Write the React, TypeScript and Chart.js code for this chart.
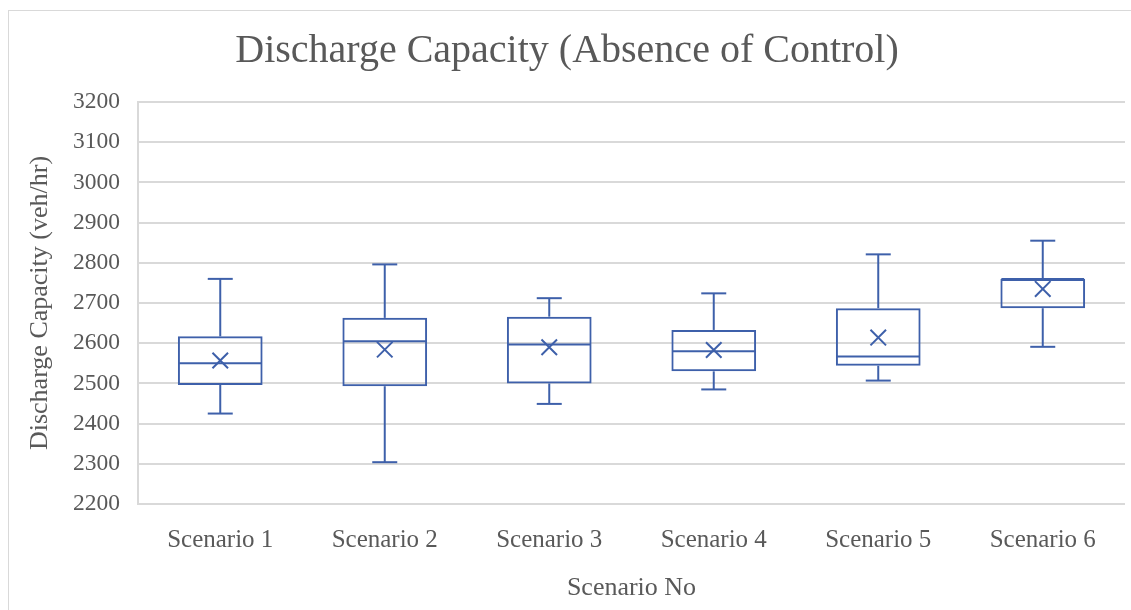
import React, { useEffect, useRef } from "react";
import { Chart, registerables } from "chart.js";

Chart.register(...registerables);

// ---- data ----
const categories = ["Scenario 1", "Scenario 2", "Scenario 3", "Scenario 4", "Scenario 5", "Scenario 6"];
const minValues = [2425, 2304, 2449, 2485, 2507, 2591];
const q1Values = [2496, 2493, 2500, 2530, 2544, 2687];
const medianValues = [2550, 2605, 2597, 2580, 2567, 2760];
const q3Values = [2617, 2663, 2666, 2633, 2687, 2760];
const maxValues = [2760, 2796, 2712, 2724, 2821, 2855];
const meanValues = [2557, 2584, 2590, 2583, 2614, 2735];

const yMin = 2200;
const yMax = 3200;
const yStep = 100;

const titleText = "Discharge Capacity (Absence of Control)";
const xTitleText = "Scenario No";
const yTitleText = "Discharge Capacity (veh/hr)";

// ---- styles ----
const BLUE = "#3E60AA";
const TEXT = "#595959";
const GRID = "#D9D9D9";
const FONT = "'Liberation Serif', 'Times New Roman', serif";

const W = 1130;
const H = 599;
const PLOT_BOTTOM = 493;
const Y_AXIS_WIDTH = 129;

const boxPlugin = {
  id: "boxWhiskers",
  afterDatasetsDraw(chart: any) {
    const { ctx } = chart;
    const y = chart.scales.y;
    const meta = chart.getDatasetMeta(0);
    ctx.save();
    ctx.strokeStyle = BLUE;
    ctx.lineWidth = 2;
    ctx.lineCap = "butt";
    const line = (x1: number, y1: number, x2: number, y2: number) => {
      ctx.beginPath();
      ctx.moveTo(x1, y1);
      ctx.lineTo(x2, y2);
      ctx.stroke();
    };
    categories.forEach((_, i) => {
      const bar = meta.data[i];
      if (!bar) return;
      const cx = bar.x;
      const half = bar.width / 2;
      const cap = 12.5;
      const pMin = y.getPixelForValue(minValues[i]);
      const pQ1 = y.getPixelForValue(q1Values[i]);
      const pMed = y.getPixelForValue(medianValues[i]);
      const pQ3 = y.getPixelForValue(q3Values[i]);
      const pMax = y.getPixelForValue(maxValues[i]);
      // upper whisker
      line(cx, pQ3, cx, pMax);
      line(cx - cap, pMax, cx + cap, pMax);
      // lower whisker
      line(cx, pQ1, cx, pMin);
      line(cx - cap, pMin, cx + cap, pMin);
      // median
      line(cx - half + 1, pMed, cx + half - 1, pMed);
    });
    ctx.restore();
  },
};

export default function App() {
  const canvasRef = useRef<HTMLCanvasElement | null>(null);

  useEffect(() => {
    document.body.style.overflow = "hidden";
    const canvas = canvasRef.current;
    if (!canvas) return;
    const chart = new Chart(canvas, {
      type: "bar",
      data: {
        labels: categories,
        datasets: [
          {
            type: "bar",
            label: "Box",
            data: categories.map((_, i) => [q1Values[i], q3Values[i]]) as any,
            backgroundColor: "rgba(255,255,255,0)",
            borderColor: BLUE,
            borderWidth: 2,
            borderSkipped: false,
            barPercentage: 1,
            categoryPercentage: 0.515,
            order: 2,
          } as any,
          {
            type: "line",
            label: "Mean",
            data: meanValues,
            showLine: false,
            pointStyle: "crossRot",
            pointRadius: 11,
            pointHoverRadius: 11,
            pointBorderWidth: 2,
            borderColor: BLUE,
            backgroundColor: BLUE,
            order: 1,
          } as any,
        ],
      },
      options: {
        responsive: false,
        animation: false,
        devicePixelRatio: 1,
        layout: { padding: { top: 0, right: 14, bottom: 0, left: 0 } },
        plugins: {
          legend: { display: false },
          tooltip: { enabled: false },
          title: {
            display: true,
            text: titleText,
            color: TEXT,
            font: { family: FONT, size: 40, weight: "normal" },
            padding: { top: 16, bottom: 27 },
          },
        },
        scales: {
          x: {
            grid: { display: false, drawTicks: false },
            border: { display: false },
            ticks: {
              color: TEXT,
              font: { family: FONT, size: 25 },
              padding: 21,
              maxRotation: 0,
            },
            title: {
              display: true,
              text: xTitleText,
              color: TEXT,
              font: { family: FONT, size: 26 },
              padding: { top: 0, bottom: 6 },
            },
            afterFit(scale: any) {
              scale.height = H - PLOT_BOTTOM;
            },
          },
          y: {
            min: yMin,
            max: yMax,
            grid: { color: GRID, lineWidth: 2, drawTicks: false },
            border: { display: true, color: GRID, width: 2 },
            ticks: {
              stepSize: yStep,
              color: TEXT,
              font: { family: FONT, size: 23.5 },
              padding: 18,
              callback: (v: any) => String(v),
            },
            title: {
              display: true,
              text: yTitleText,
              color: TEXT,
              font: { family: FONT, size: 26 },
              padding: { top: 16, bottom: 0 },
            },
            afterFit(scale: any) {
              scale.width = Y_AXIS_WIDTH;
            },
          },
        },
      } as any,
      plugins: [boxPlugin],
    });
    return () => chart.destroy();
  }, []);

  return (
    <div
      style={{
        position: "absolute",
        left: 8,
        top: 10,
        width: 1200,
        height: 700,
        borderLeft: "1px solid #D9D9D9",
        borderTop: "1px solid #D9D9D9",
        background: "#fff",
      }}
    >
      <canvas
        ref={canvasRef}
        width={W}
        height={H}
        style={{ display: "block", width: W, height: H }}
      />
    </div>
  );
}
